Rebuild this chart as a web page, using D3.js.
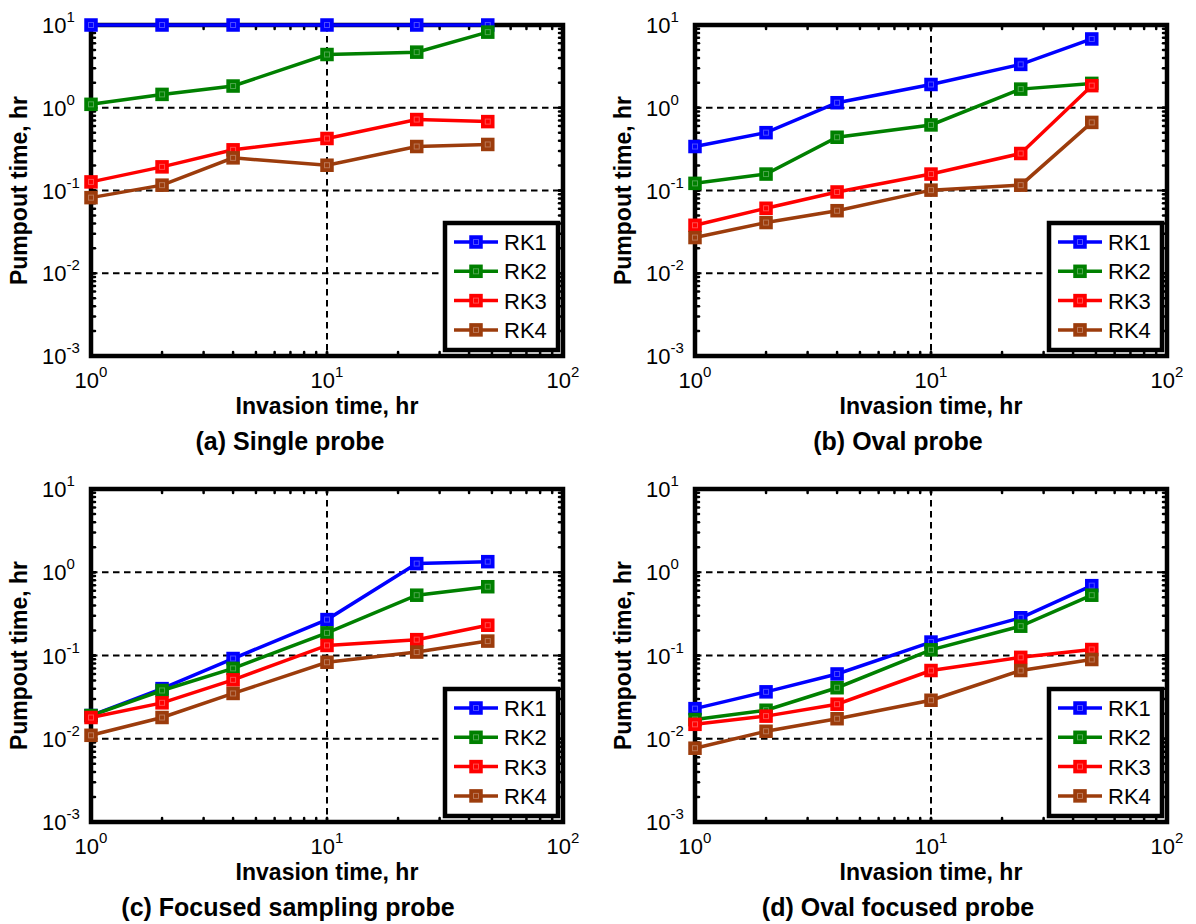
<!DOCTYPE html>
<html>
<head>
<meta charset="utf-8">
<script src="https://cdn.jsdelivr.net/npm/d3@7"></script>
<style>
  body { margin: 0; background: #fff; }
  svg { display: block; font-family: Arial, "Liberation Sans", Helvetica, sans-serif; }
</style>
</head>
<body>
<svg id="chart" width="1196" height="924"></svg>
<script>
// invasion times (hr) shared by every panel
var invasionTimes = [1, 2, 4, 10, 24, 48];
var seriesNames = ['RK1', 'RK2', 'RK3', 'RK4'];
var yTickExps = [-3, -2, -1, 0, 1];
var xTickExps = [0, 1, 2];

// (a) Single probe
var singleRK1 = [10, 10, 10, 10, 10, 10];
var singleRK2 = [1.1, 1.45, 1.83, 4.4, 4.7, 8.2];
var singleRK3 = [0.127, 0.193, 0.31, 0.425, 0.72, 0.68];
var singleRK4 = [0.082, 0.116, 0.248, 0.202, 0.34, 0.36];

// (b) Oval probe
var ovalRK1 = [0.34, 0.50, 1.15, 1.91, 3.34, 6.78];
var ovalRK2 = [0.122, 0.158, 0.44, 0.62, 1.68, 1.97];
var ovalRK3 = [0.038, 0.061, 0.096, 0.158, 0.28, 1.85];
var ovalRK4 = [0.027, 0.041, 0.057, 0.101, 0.116, 0.665];

// (c) Focused sampling probe
var focusedRK1 = [0.019, 0.040, 0.092, 0.27, 1.27, 1.34];
var focusedRK2 = [0.019, 0.038, 0.070, 0.187, 0.53, 0.67];
var focusedRK3 = [0.018, 0.027, 0.051, 0.132, 0.155, 0.231];
var focusedRK4 = [0.011, 0.018, 0.035, 0.083, 0.110, 0.149];

// (d) Oval focused probe
var ovalFocRK1 = [0.023, 0.0366, 0.060, 0.145, 0.284, 0.69];
var ovalFocRK2 = [0.017, 0.022, 0.041, 0.117, 0.225, 0.53];
var ovalFocRK3 = [0.0149, 0.0187, 0.026, 0.066, 0.095, 0.118];
var ovalFocRK4 = [0.0077, 0.0123, 0.0174, 0.029, 0.066, 0.0895];

var colors = ['#0000ff', '#008000', '#ff0000', '#9c3c0c'];

var panels = [
  { title: '(a) Single probe', x: 91, y: 25, w: 472, h: 331, titleX: 290,
    series: [singleRK1, singleRK2, singleRK3, singleRK4] },
  { title: '(b) Oval probe', x: 695, y: 25, w: 472, h: 331, titleX: 898,
    series: [ovalRK1, ovalRK2, ovalRK3, ovalRK4] },
  { title: '(c) Focused sampling probe', x: 91, y: 489, w: 472, h: 333, titleX: 288,
    series: [focusedRK1, focusedRK2, focusedRK3, focusedRK4] },
  { title: '(d) Oval focused probe', x: 695, y: 489, w: 472, h: 333, titleX: 898,
    series: [ovalFocRK1, ovalFocRK2, ovalFocRK3, ovalFocRK4] }
];

var svg = d3.select('#chart');

function minorTicks(lo, hi) {
  var out = [];
  for (var e = lo; e < hi; e++) {
    for (var m = 1; m <= 10; m++) {
      out.push(m * Math.pow(10, e));
    }
  }
  return out;
}

function powLabel(sel, exp) {
  sel.append('tspan').text('10');
  sel.append('tspan')
    .attr('dy', -11)
    .attr('font-size', 15)
    .text(String(exp));
}

function marker(sel, cx, cy, c) {
  sel.append('rect')
    .attr('x', cx - 6).attr('y', cy - 6)
    .attr('width', 12).attr('height', 12)
    .attr('fill', c).attr('stroke', c).attr('stroke-width', 1.5);
  // faint inner highlight like the original's marker face
  sel.append('rect')
    .attr('x', cx - 2.5).attr('y', cy - 2.5)
    .attr('width', 5).attr('height', 5)
    .attr('fill', 'none').attr('stroke', '#fff')
    .attr('stroke-opacity', 0.3).attr('stroke-width', 1);
}

function drawPanel(p) {
  var x = d3.scaleLog().domain([1, 100]).range([p.x, p.x + p.w]);
  var y = d3.scaleLog().domain([1e-3, 10]).range([p.y + p.h, p.y]);
  var g = svg.append('g');

  // dashed grid at inner decades
  g.selectAll('.hgrid')
    .data([1e-2, 1e-1, 1])
    .enter().append('line')
    .attr('x1', p.x).attr('x2', p.x + p.w)
    .attr('y1', function(d) { return y(d); })
    .attr('y2', function(d) { return y(d); })
    .attr('stroke', '#000').attr('stroke-width', 2)
    .attr('stroke-dasharray', '6.5,4.5');

  g.selectAll('.vgrid')
    .data([10])
    .enter().append('line')
    .attr('y1', p.y).attr('y2', p.y + p.h)
    .attr('x1', function(d) { return x(d); })
    .attr('x2', function(d) { return x(d); })
    .attr('stroke', '#000').attr('stroke-width', 2)
    .attr('stroke-dasharray', '6.5,4.5');

  // ticks on all four sides, pointing in
  var xt = minorTicks(0, 2), yt = minorTicks(-3, 1);
  var tickLen = 4;
  xt.forEach(function(v) {
    g.append('line').attr('x1', x(v)).attr('x2', x(v))
      .attr('y1', p.y + p.h).attr('y2', p.y + p.h - tickLen)
      .attr('stroke', '#000').attr('stroke-width', 2.5).attr('stroke-linecap', 'round');
    g.append('line').attr('x1', x(v)).attr('x2', x(v))
      .attr('y1', p.y).attr('y2', p.y + tickLen)
      .attr('stroke', '#000').attr('stroke-width', 2.5).attr('stroke-linecap', 'round');
  });
  yt.forEach(function(v) {
    g.append('line').attr('y1', y(v)).attr('y2', y(v))
      .attr('x1', p.x).attr('x2', p.x + tickLen)
      .attr('stroke', '#000').attr('stroke-width', 2.5).attr('stroke-linecap', 'round');
    g.append('line').attr('y1', y(v)).attr('y2', y(v))
      .attr('x1', p.x + p.w).attr('x2', p.x + p.w - tickLen)
      .attr('stroke', '#000').attr('stroke-width', 2.5).attr('stroke-linecap', 'round');
  });

  // frame
  g.append('rect')
    .attr('x', p.x).attr('y', p.y)
    .attr('width', p.w).attr('height', p.h)
    .attr('fill', 'none').attr('stroke', '#000').attr('stroke-width', 4.5);

  // tick labels
  yTickExps.forEach(function(e) {
    var t = g.append('text')
      .attr('x', p.x - 49)
      .attr('y', y(Math.pow(10, e)) + 8)
      .attr('font-size', 22);
    powLabel(t, e);
  });
  xTickExps.forEach(function(e) {
    var t = g.append('text')
      .attr('x', x(Math.pow(10, e)))
      .attr('y', p.y + p.h + 32)
      .attr('text-anchor', 'middle')
      .attr('font-size', 22);
    powLabel(t, e);
  });

  // axis titles
  g.append('text')
    .attr('x', p.x + p.w / 2)
    .attr('y', p.y + p.h + 58)
    .attr('text-anchor', 'middle')
    .attr('font-size', 23).attr('font-weight', 'bold')
    .text('Invasion time, hr');

  g.append('text')
    .attr('transform', 'translate(' + (p.x - 64) + ',' + (p.y + p.h / 2) + ') rotate(-90)')
    .attr('text-anchor', 'middle')
    .attr('font-size', 23).attr('font-weight', 'bold')
    .text('Pumpout time, hr');

  g.append('text')
    .attr('x', p.titleX)
    .attr('y', p.y + p.h + 94)
    .attr('text-anchor', 'middle')
    .attr('font-size', 25).attr('font-weight', 'bold')
    .text(p.title);

  // series
  var line = d3.line()
    .x(function(d) { return x(d[0]); })
    .y(function(d) { return y(d[1]); });

  p.series.forEach(function(vals, i) {
    var pts = invasionTimes.map(function(t, j) { return [t, vals[j]]; });
    g.append('path')
      .datum(pts)
      .attr('d', line)
      .attr('fill', 'none')
      .attr('stroke', colors[i])
      .attr('stroke-width', 3.5);
    pts.forEach(function(d) {
      marker(g, x(d[0]), y(d[1]), colors[i]);
    });
  });

  // legend, lower right
  var lw = 113, lh = 127;
  var lx = p.x + p.w - 5 - lw, ly = p.y + p.h - 6 - lh;
  var leg = g.append('g');
  leg.append('rect')
    .attr('x', lx).attr('y', ly)
    .attr('width', lw).attr('height', lh)
    .attr('fill', '#fff').attr('stroke', '#000').attr('stroke-width', 4.5);

  seriesNames.forEach(function(name, i) {
    var cy = ly + 19 + i * 29.3;
    leg.append('line')
      .attr('x1', lx + 9).attr('x2', lx + 53)
      .attr('y1', cy).attr('y2', cy)
      .attr('stroke', colors[i]).attr('stroke-width', 3.5);
    marker(leg, lx + 31, cy, colors[i]);
    leg.append('text')
      .attr('x', lx + 59).attr('y', cy + 8)
      .attr('font-size', 22)
      .text(name);
  });
}

panels.forEach(drawPanel);
</script>
</body>
</html>
